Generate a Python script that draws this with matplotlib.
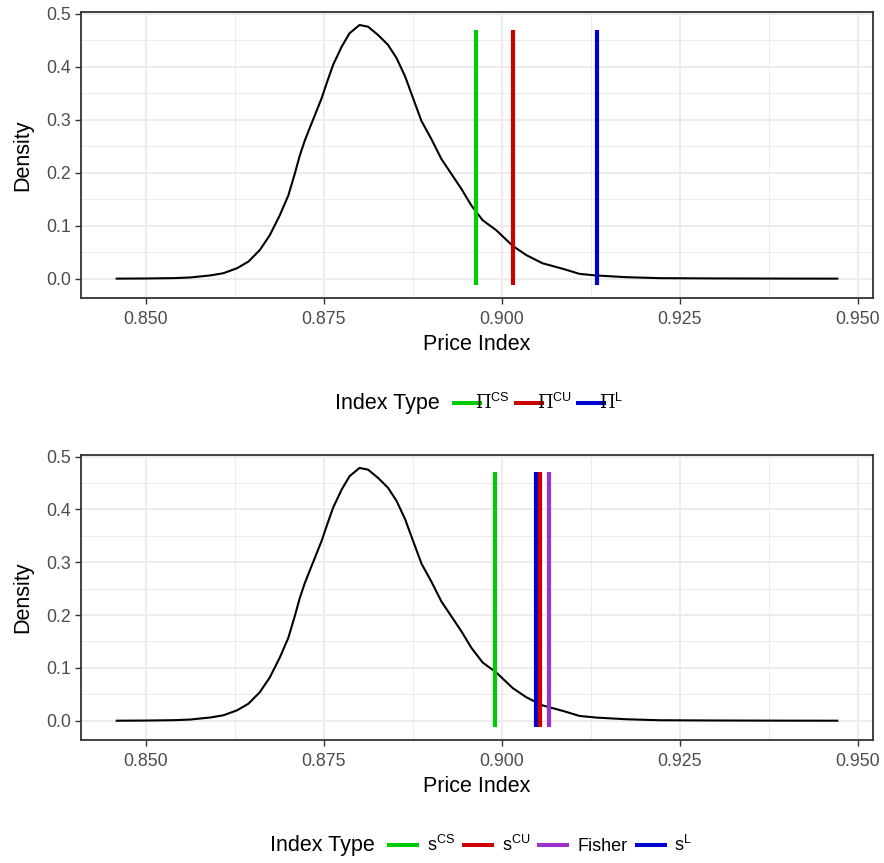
import matplotlib
matplotlib.use("Agg")
import matplotlib.pyplot as plt
from matplotlib.lines import Line2D
from matplotlib.ticker import MultipleLocator, FormatStrFormatter

plt.rcParams['font.family'] = ['Liberation Sans', 'DejaVu Sans']
plt.rcParams['mathtext.fontset'] = 'custom'
plt.rcParams['mathtext.rm'] = 'DejaVu Serif'
plt.rcParams['mathtext.sf'] = 'Liberation Sans'
plt.rcParams['mathtext.it'] = 'DejaVu Serif:italic'

# Kernel density estimate of the simulated price index
price_index = [0.8459, 0.8500, 0.8540, 0.8562, 0.8590, 0.8609, 0.8628, 0.8644,
               0.8660, 0.8674, 0.8688, 0.8700, 0.8709, 0.8716, 0.8723, 0.8730,
               0.8735, 0.8747, 0.8754, 0.8763, 0.8775, 0.8786, 0.8800, 0.8812,
               0.8826, 0.8840, 0.8852, 0.8864, 0.8875, 0.8887, 0.8901, 0.8915,
               0.8929, 0.8943, 0.8957, 0.8973, 0.8992, 0.9015, 0.9034, 0.9057,
               0.9086, 0.9109, 0.9132, 0.9174, 0.9221, 0.9300, 0.9400, 0.9471]
density = [0.0000, 0.0003, 0.0010, 0.0022, 0.0060, 0.0103, 0.0197, 0.0322,
           0.0540, 0.0820, 0.1195, 0.1569, 0.1976, 0.2318, 0.2599, 0.2840,
           0.3006, 0.3412, 0.3693, 0.4036, 0.4378, 0.4629, 0.4785, 0.4753,
           0.4597, 0.4410, 0.4161, 0.3816, 0.3412, 0.2974, 0.2631, 0.2257,
           0.1976, 0.1695, 0.1382, 0.1101, 0.0914, 0.0620, 0.0446, 0.0290,
           0.0184, 0.0090, 0.0060, 0.0028, 0.0009, 0.0004, 0.0001, 0.0000]

# Reference index values (top panel)
top_labels = [r'$\Pi^{\mathsf{CS}}$', r'$\Pi^{\mathsf{CU}}$', r'$\Pi^{\mathsf{L}}$']
top_values = [0.8964, 0.9016, 0.9134]
top_colors = ['#00CD00', '#CD0000', '#0000CD']

# Reference index values (bottom panel)
bot_labels = [r'$\mathsf{s}^{\mathsf{CS}}$', r'$\mathsf{s}^{\mathsf{CU}}$', 'Fisher', r'$\mathsf{s}^{\mathsf{L}}$']
bot_values = [0.8990, 0.9053, 0.9066, 0.9048]
bot_colors = ['#00CD00', '#CD0000', '#9A32CD', '#0000CD']
bot_draw_order = [0, 3, 1, 2]

seg_lo, seg_hi = -0.012, 0.47

W, H = 884, 863
fig = plt.figure(figsize=(W / 100, H / 100), dpi=100)


def px_axes(left, top, right, bottom):
    return fig.add_axes([left / W, 1 - bottom / H, (right - left) / W, (bottom - top) / H])


def style_axes(ax):
    x0, x1 = min(price_index), max(price_index)
    pad = 0.05 * (x1 - x0)
    ax.set_xlim(x0 - pad, x1 + pad)
    y0, y1 = min(seg_lo, min(density)), max(seg_hi, max(density))
    ypad = 0.05 * (y1 - y0)
    ax.set_ylim(y0 - ypad, y1 + ypad)
    ax.xaxis.set_major_locator(MultipleLocator(0.025))
    ax.xaxis.set_minor_locator(MultipleLocator(0.0125))
    ax.yaxis.set_major_locator(MultipleLocator(0.1))
    ax.yaxis.set_minor_locator(MultipleLocator(0.05))
    ax.xaxis.set_major_formatter(FormatStrFormatter('%.3f'))
    ax.yaxis.set_major_formatter(FormatStrFormatter('%.1f'))
    ax.grid(which='major', color='#EBEBEB', linewidth=1.3)
    ax.grid(which='minor', color='#EBEBEB', linewidth=0.7)
    ax.set_axisbelow(True)
    ax.tick_params(which='major', direction='out', length=4, width=1.0,
                   color='#333333', labelcolor='#4D4D4D', labelsize=12.8, pad=3)
    ax.tick_params(axis='x', which='major', pad=5.5)
    ax.tick_params(which='minor', length=0)
    for s in ax.spines.values():
        s.set_color('#333333')
        s.set_linewidth(1.3)
    ax.set_xlabel('Price Index', fontsize=15.5, labelpad=4.5)
    ax.set_ylabel('Density', fontsize=15.5, labelpad=9.5)


def add_legend(title_x, key_x, y, labels, colors, textpad, colspace, hlen):
    fig.text(title_x / W, 1 - y / H, 'Index Type', fontsize=15.5, ha='left', va='center')
    handles = [Line2D([], [], color=c, linewidth=2.9) for c in colors]
    fig.legend(handles, labels, loc='center left', bbox_to_anchor=(key_x / W, 1 - y / H),
               ncol=len(labels), frameon=False, fontsize=13, handlelength=hlen,
               handletextpad=textpad, columnspacing=colspace, borderpad=0, borderaxespad=0)


# Top panel
ax1 = px_axes(80.7, 12, 873.3, 298)
style_axes(ax1)
ax1.plot(price_index, density, color='black', linewidth=1.5, zorder=3)
for v, c in zip(top_values, top_colors):
    ax1.vlines(v, seg_lo, seg_hi, color=c, linewidth=3.0, zorder=4)
add_legend(335, 454, 403, top_labels, top_colors, -0.3, 0.35, 1.45)

# Bottom panel
ax2 = px_axes(80.7, 455, 873.3, 740)
style_axes(ax2)
ax2.plot(price_index, density, color='black', linewidth=1.5, zorder=3)
for i in bot_draw_order:
    ax2.vlines(bot_values[i], seg_lo, seg_hi, color=bot_colors[i], linewidth=3.0, zorder=4)
add_legend(270, 389, 845, bot_labels, bot_colors, 0.55, 0.5, 1.55)

fig.savefig('out.png', dpi=100)
